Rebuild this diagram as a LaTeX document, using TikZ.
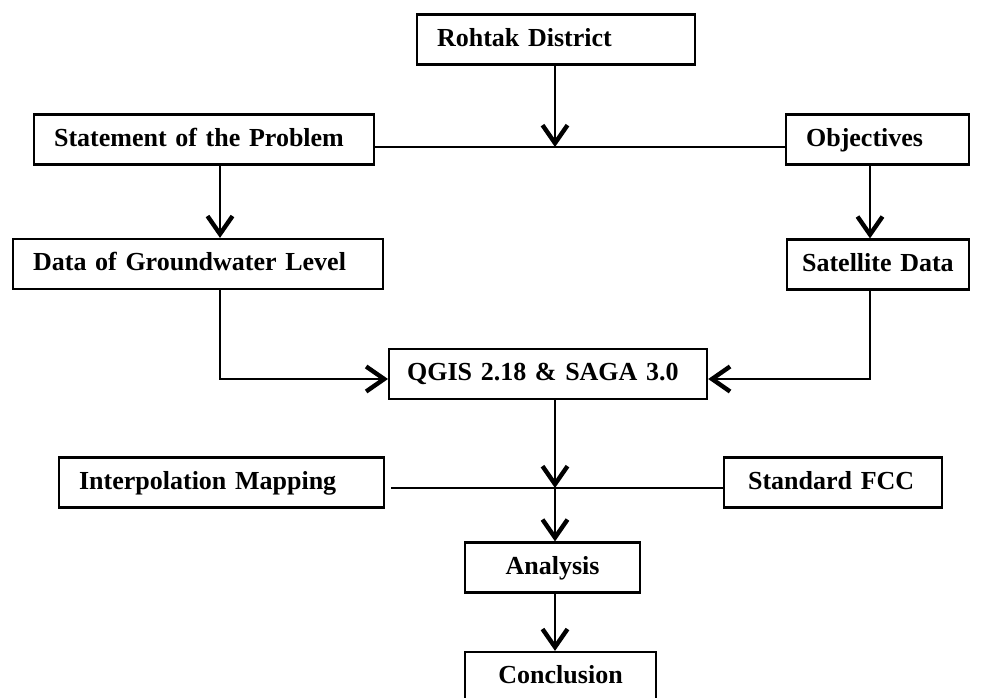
\documentclass[tikz,border=0pt]{standalone}
\usepackage{fontspec}
\setmainfont{Liberation Serif}
\usetikzlibrary{arrows.meta}

\begin{document}
\begin{tikzpicture}[x=0.5pt, y=-0.5pt]
	\tikzstyle{box} = [rectangle, draw=black, line width=1.1pt, anchor=west, 
	minimum height=25pt, inner xsep=10pt, text height=9.5pt, text depth=3pt, 
	align=left, font=\fontsize{13pt}{15pt}\selectfont\bfseries]
	\tikzstyle{mid} = [box, align=center, inner xsep=4pt]
	\tikzstyle{line} = [line width=1pt]
	\tikzstyle{arrow} = [line width=1pt, -{Straight Barb[length=9pt, width=12.5pt, line width=2.2pt]}]
	\useasboundingbox (0,0) rectangle (981,697);
	% boxes
	\node (rohtak) [box, text width=119pt] at (416,39.5) {Rohtak District};
	\node (statement) [box, text width=150pt] at (33,139.5) {Statement of the Problem};
	\node (objectives) [box, text width=71.5pt] at (785,139.5) {Objectives};
	\node (groundwater) [box, text width=165pt] at (12,264) {Data of Groundwater Level};
	\node (satellite) [box, text width=76pt, inner xsep=7.5pt] at (786,264.5) {Satellite Data};
	\node (qgis) [box, text width=141pt, inner xsep=9pt] at (388,374) {QGIS 2.18 \& SAGA 3.0};
	\node (interpolation) [box, text width=142.5pt] at (58,482.5) {Interpolation Mapping};
	\node (fcc) [box, text width=85pt, inner xsep=12pt] at (723,482.5) {Standard FCC};
	\node (analysis) [mid, text width=79.5pt] at (464,567.5) {Analysis};
	\node (conclusion) [mid, text width=87.5pt] at (464,677) {Conclusion};
	% joints
	\coordinate (topJoin) at (555,147);
	\coordinate (leftCol) at (220,0);
	\coordinate (rightCol) at (870,0);
	\coordinate (gisLevel) at (0,379);
	\coordinate (lowJoin) at (555,488);
	% connectors
	\draw [line] (statement.east |- topJoin) -- (objectives.west |- topJoin);
	\draw [arrow] (rohtak.south -| topJoin) -- (topJoin);
	\draw [arrow] (statement.south -| leftCol) -- (groundwater.north -| leftCol);
	\draw [arrow] (objectives.south -| rightCol) -- (satellite.north -| rightCol);
	\draw [arrow] (groundwater.south -| leftCol) |- (qgis.west |- gisLevel);
	\draw [arrow] (satellite.south -| rightCol) |- (qgis.east |- gisLevel);
	\draw [line] ([xshift=3pt]interpolation.east |- lowJoin) -- (fcc.west |- lowJoin);
	\draw [arrow] (qgis.south -| lowJoin) -- (lowJoin);
	\draw [arrow] (lowJoin) -- (analysis.north -| lowJoin);
	\draw [arrow] (analysis.south -| lowJoin) -- (conclusion.north -| lowJoin);
\end{tikzpicture}
\end{document}
